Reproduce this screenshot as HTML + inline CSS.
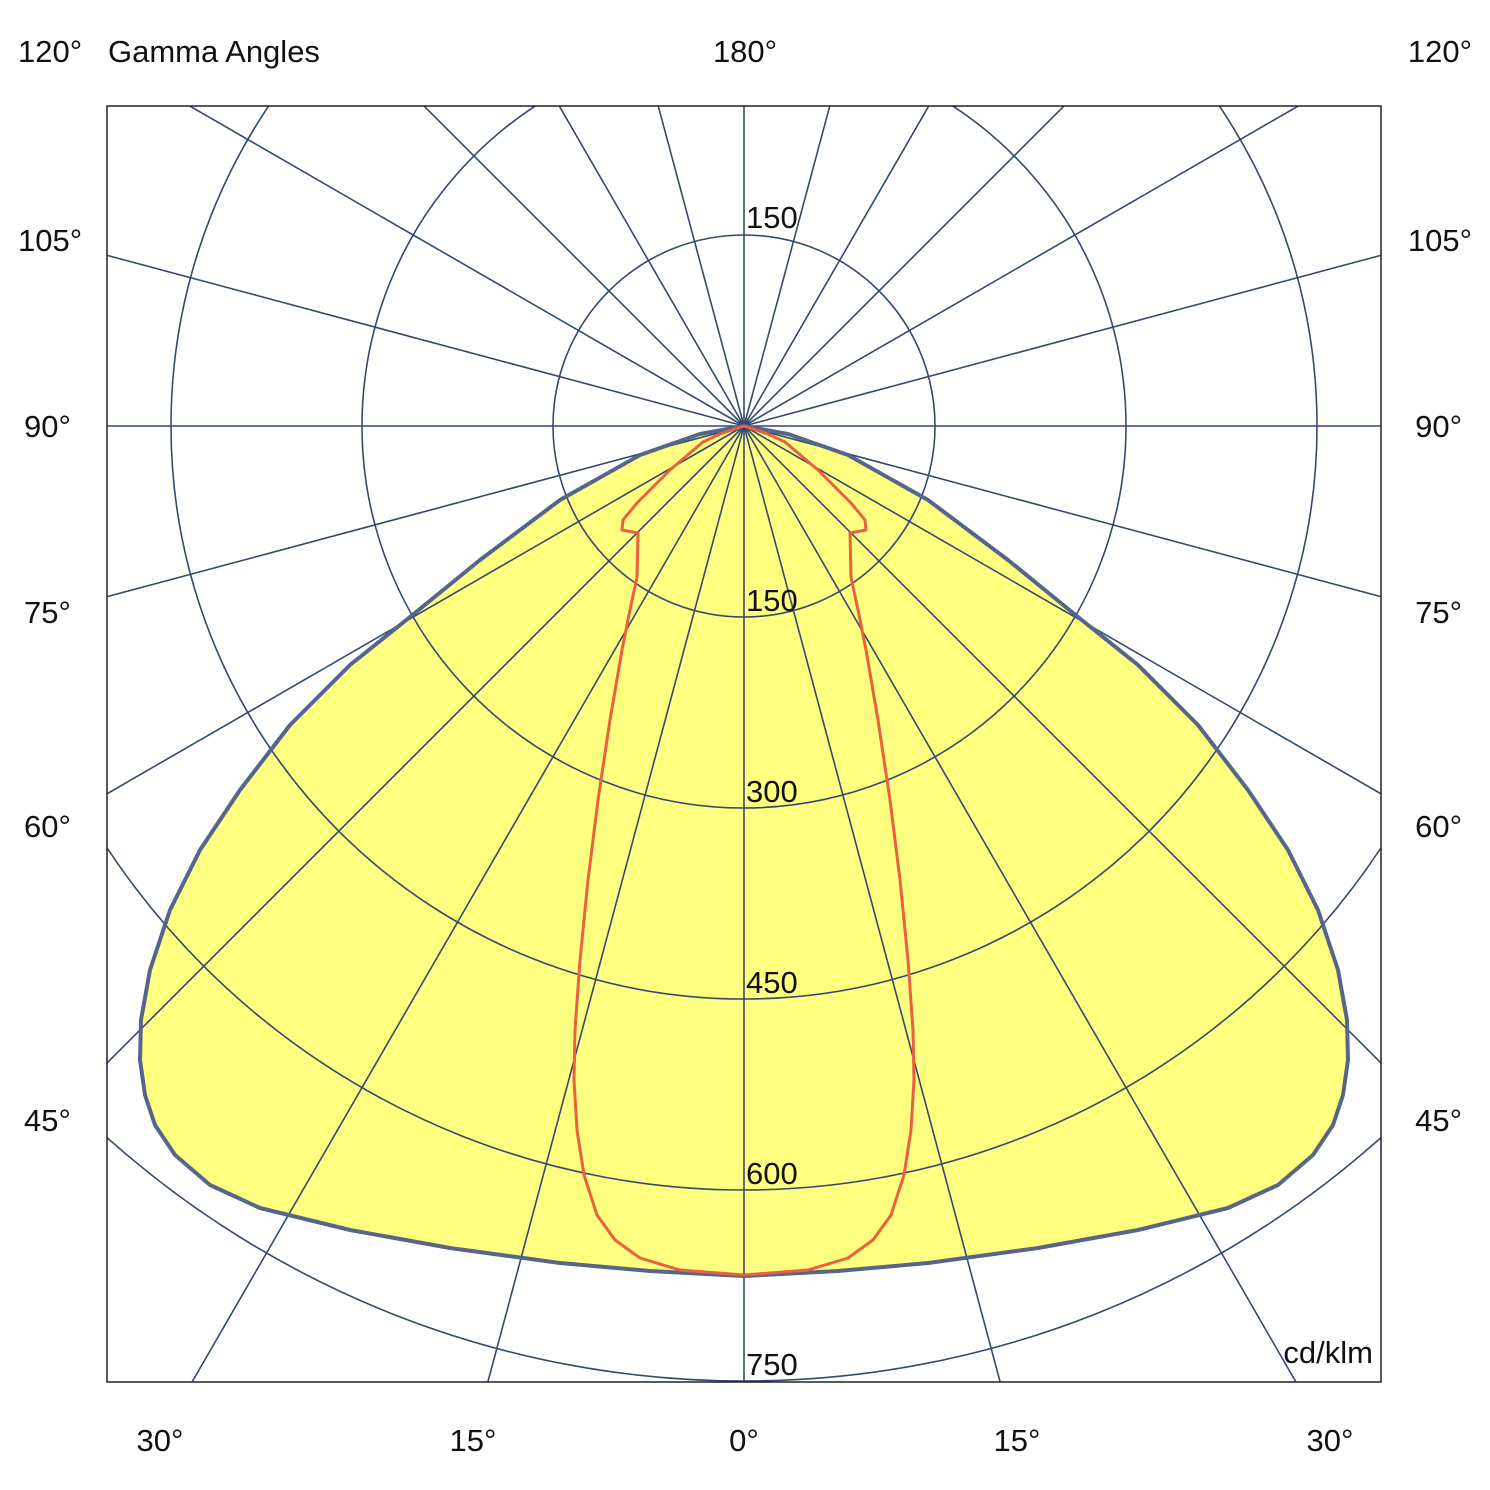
<!DOCTYPE html>
<html><head><meta charset="utf-8"><style>
html,body{margin:0;padding:0;background:#fff;width:1490px;height:1490px;overflow:hidden}
svg{display:block;position:absolute;left:0;top:0}
text{font-family:"Liberation Sans",sans-serif;font-size:31px;fill:#111}
</style></head><body>
<svg width="1490" height="1490" viewBox="0 0 1490 1490" xmlns="http://www.w3.org/2000/svg">
<defs><clipPath id="c"><rect x="107" y="106" width="1274" height="1276"/></clipPath></defs>
<g clip-path="url(#c)">
<polygon fill="#ffff80" stroke="none" points="744,426 700,434 640,455 560,500 480,560 410,617 350,665 290,725 240,790 200,850 170,910 150,970 141,1020 140,1060 145,1095 155,1125 175,1155 210,1185 260,1208 350,1230 450,1248 560,1263 650,1271 744,1276 838,1271 928,1263 1038,1248 1138,1230 1228,1208 1278,1185 1313,1155 1333,1125 1343,1095 1348,1060 1347,1020 1338,970 1318,910 1288,850 1248,790 1198,725 1138,665 1078,617 1008,560 928,500 848,455 788,434"/>
<g stroke="#34496e" stroke-width="1.6" fill="none">
<circle cx="744" cy="426" r="191"/><circle cx="744" cy="426" r="382"/><circle cx="744" cy="426" r="573"/><circle cx="744" cy="426" r="764"/><circle cx="744" cy="426" r="955"/>
<g id="sp">
<line x1="744" y1="426" x2="744" y2="2426"/>
<line x1="744" y1="426" x2="744" y2="2426" transform="rotate(15 744 426)"/>
<line x1="744" y1="426" x2="744" y2="2426" transform="rotate(30 744 426)"/>
<line x1="744" y1="426" x2="744" y2="2426" transform="rotate(45 744 426)"/>
<line x1="744" y1="426" x2="744" y2="2426" transform="rotate(60 744 426)"/>
<line x1="744" y1="426" x2="744" y2="2426" transform="rotate(75 744 426)"/>
<line x1="744" y1="426" x2="744" y2="2426" transform="rotate(90 744 426)"/>
<line x1="744" y1="426" x2="744" y2="2426" transform="rotate(105 744 426)"/>
<line x1="744" y1="426" x2="744" y2="2426" transform="rotate(120 744 426)"/>
<line x1="744" y1="426" x2="744" y2="2426" transform="rotate(135 744 426)"/>
<line x1="744" y1="426" x2="744" y2="2426" transform="rotate(150 744 426)"/>
<line x1="744" y1="426" x2="744" y2="2426" transform="rotate(165 744 426)"/>
</g>
<use href="#sp" transform="rotate(180 744 426)"/>
</g>
<polygon fill="none" stroke="#56658a" stroke-width="4" stroke-linejoin="round" points="744,426 700,434 640,455 560,500 480,560 410,617 350,665 290,725 240,790 200,850 170,910 150,970 141,1020 140,1060 145,1095 155,1125 175,1155 210,1185 260,1208 350,1230 450,1248 560,1263 650,1271 744,1276 838,1271 928,1263 1038,1248 1138,1230 1228,1208 1278,1185 1313,1155 1333,1125 1343,1095 1348,1060 1347,1020 1338,970 1318,910 1288,850 1248,790 1198,725 1138,665 1078,617 1008,560 928,500 848,455 788,434"/>
<polygon fill="none" stroke="#ea6040" stroke-width="3" stroke-linejoin="round" points="744,426 720,434 703,442 670,470 637,503 623,520 622,530 638,533 637,577 630,610 622,650 610,720 598,800 588,880 580,960 575,1030 574,1080 577,1130 584,1175 597,1215 615,1240 640,1258 680,1270 744,1275 808,1270 848,1258 873,1240 891,1215 904,1175 911,1130 914,1080 913,1030 908,960 900,880 890,800 878,720 866,650 858,610 851,577 850,533 866,530 865,520 851,503 818,470 785,442 768,434"/>
</g>
<rect x="107" y="106" width="1274" height="1276" fill="none" stroke="#222" stroke-width="1.5"/>
<text x="18" y="62">120°</text>
<text x="108" y="62">Gamma Angles</text>
<text x="745" y="62" text-anchor="middle">180°</text>
<text x="1472" y="62" text-anchor="end">120°</text>
<text x="18" y="251">105°</text><text x="1472" y="251" text-anchor="end">105°</text>
<text x="24" y="437">90°</text><text x="1462" y="437" text-anchor="end">90°</text>
<text x="24" y="623">75°</text><text x="1462" y="623" text-anchor="end">75°</text>
<text x="24" y="837">60°</text><text x="1462" y="837" text-anchor="end">60°</text>
<text x="24" y="1131">45°</text><text x="1462" y="1131" text-anchor="end">45°</text>
<text x="160" y="1451" text-anchor="middle">30°</text>
<text x="473" y="1451" text-anchor="middle">15°</text>
<text x="744" y="1451" text-anchor="middle">0°</text>
<text x="1017" y="1451" text-anchor="middle">15°</text>
<text x="1330" y="1451" text-anchor="middle">30°</text>
<text x="746" y="228">150</text>
<text x="746" y="611">150</text>
<text x="746" y="802">300</text>
<text x="746" y="993">450</text>
<text x="746" y="1184">600</text>
<text x="746" y="1375">750</text>
<text x="1373" y="1363" text-anchor="end">cd/klm</text>
</svg>
</body></html>
